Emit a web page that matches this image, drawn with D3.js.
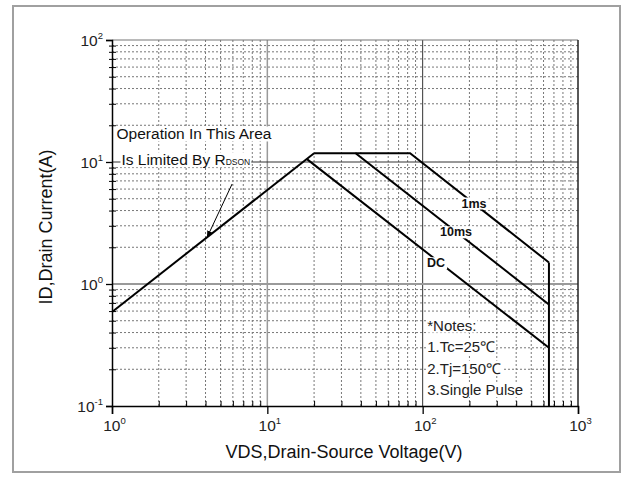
<!DOCTYPE html>
<html><head><meta charset="utf-8">
<script src="https://cdn.jsdelivr.net/npm/d3@7"></script>
<style>body{margin:0;background:#fff;} svg{display:block;font-family:"Liberation Sans",Arial,sans-serif;}</style>
</head><body>
<svg id="c" width="632" height="480"></svg>
<script>
// ---- data ----
const xDecades = [1, 10, 100, 1000];
const yDecades = [0.1, 1, 10, 100];
const xTickLabels = ["0", "1", "2", "3"];
const yTickLabels = ["-1", "0", "1", "2"];
const rdsLimit = [[1, 0.59], [20, 11.8]];
const dcLine = [[17.9, 10.6], [650, 0.3]];
const ms10Line = [[20, 11.8], [37, 11.8], [650, 0.68]];
const ms1Line = [[37, 11.8], [83, 11.8], [650, 1.5]];
const vdsMaxLine = [[650, 1.5], [650, 0.1]];
const lineLabels = [["1ms", 214, 4.6], ["10ms", 164, 2.67], ["DC", 122, 1.49]];
const noteLines = ["*Notes:", "1.Tc=25\u2103", "2.Tj=150\u2103", "3.Single Pulse"];

// ---- setup ----
const svg = d3.select("#c");
svg.append("rect").attr("x", 13).attr("y", 6).attr("width", 607).attr("height", 466)
  .attr("fill", "#fff").attr("stroke", "#a0a0a0").attr("stroke-width", 2);

const x = d3.scaleLog().domain([1, 1000]).range([112, 578]);
const y = d3.scaleLog().domain([0.1, 100]).range([406, 40]);

const minorX = [], minorY = [];
[1, 10, 100].forEach(d => { for (let k = 2; k <= 9; k++) minorX.push(d * k); });
[0.1, 1, 10].forEach(d => { for (let k = 2; k <= 9; k++) minorY.push(+(d * k).toPrecision(3)); });

const g = svg.append("g");
g.selectAll(".vgrid").data(minorX).join("line")
  .attr("x1", d => x(d)).attr("x2", d => x(d)).attr("y1", y(0.1)).attr("y2", y(100))
  .attr("stroke", "#777").attr("stroke-width", 1).attr("stroke-dasharray", "2,2");
g.selectAll(".hgrid").data(minorY).join("line")
  .attr("y1", d => y(d)).attr("y2", d => y(d)).attr("x1", x(1)).attr("x2", x(1000))
  .attr("stroke", "#777").attr("stroke-width", 1).attr("stroke-dasharray", "2,2");
const majV = [[10, "#9a9a9a", 1.5], [100, "#333", 1]];
const majH = [[10, "#333", 1], [1, "#9a9a9a", 2]];
g.selectAll(".mv").data(majV).join("line")
  .attr("x1", d => x(d[0])).attr("x2", d => x(d[0])).attr("y1", y(0.1)).attr("y2", y(100))
  .attr("stroke", d => d[1]).attr("stroke-width", d => d[2]);
g.selectAll(".mh").data(majH).join("line")
  .attr("y1", d => y(d[0])).attr("y2", d => y(d[0])).attr("x1", x(1)).attr("x2", x(1000))
  .attr("stroke", d => d[1]).attr("stroke-width", d => d[2]);
g.append("line").attr("x1", x(1)).attr("x2", x(1000)).attr("y1", y(100)).attr("y2", y(100))
  .attr("stroke", "#777").attr("stroke-width", 1.2);
g.append("line").attr("x1", x(1000)).attr("x2", x(1000)).attr("y1", y(100)).attr("y2", y(0.1))
  .attr("stroke", "#222").attr("stroke-width", 1.5);

// ---- data lines ----
const line = d3.line().x(d => x(d[0])).y(d => y(d[1]));
const lg = svg.append("g").attr("fill", "none").attr("stroke", "#000").attr("stroke-width", 2);
[rdsLimit, dcLine, ms10Line, ms1Line, vdsMaxLine].forEach(s => lg.append("path").attr("d", line(s)));

// ---- axes ----
function supLabel(sel, base, exp) {
  sel.text(null);
  sel.append("tspan").text(base);
  sel.append("tspan").attr("font-size", 9.5).attr("dy", -7).text(exp);
}
const ax = svg.append("g").attr("transform", `translate(0,${y(0.1)})`)
  .call(d3.axisBottom(x).tickValues(xDecades).tickSize(8).tickFormat(""));
ax.select(".domain").attr("stroke", "#000").attr("stroke-width", 1.5);
ax.selectAll(".tick line").attr("stroke", "#000").attr("stroke-width", 1.3);
ax.selectAll(".tick text").each(function(d, i) {
  const t = d3.select(this).attr("y", 25).attr("dy", 0).attr("fill", "#222")
    .attr("font-size", 15.5).attr("text-anchor", "middle").attr("dx", 2);
  supLabel(t, "10", xTickLabels[i]);
});
const axm = svg.append("g").attr("transform", `translate(0,${y(0.1)})`)
  .call(d3.axisBottom(x).tickValues(minorX).tickSize(-5).tickFormat(""));
axm.select(".domain").remove();
axm.selectAll(".tick line").attr("stroke", "#000");

const ay = svg.append("g").attr("transform", `translate(${x(1)},0)`)
  .call(d3.axisLeft(y).tickValues(yDecades).tickSize(6).tickFormat(""));
ay.select(".domain").attr("stroke", "#000").attr("stroke-width", 1.5);
ay.selectAll(".tick line").attr("stroke", "#000").attr("stroke-width", 1.3);
ay.selectAll(".tick text").each(function(d, i) {
  const t = d3.select(this).attr("x", -9).attr("dy", "0.36em").attr("fill", "#222")
    .attr("font-size", 15.5).attr("text-anchor", "end");
  supLabel(t, "10", yTickLabels[i]);
});
const aym = svg.append("g").attr("transform", `translate(${x(1)},0)`)
  .call(d3.axisLeft(y).tickValues(minorY).tickSizeInner(-4).tickSizeOuter(0).tickFormat(""));
aym.select(".domain").remove();
aym.selectAll(".tick line").attr("stroke", "#000").attr("x1", -3);

// axis titles
svg.append("text").attr("x", (x(1) + x(1000)) / 2 - 1).attr("y", 458)
  .attr("text-anchor", "middle").attr("font-size", 18).attr("fill", "#111")
  .text("VDS,Drain-Source Voltage(V)");
svg.append("text").attr("transform", `translate(52,${(y(0.1) + y(100)) / 2 + 4}) rotate(-90)`)
  .attr("text-anchor", "middle").attr("font-size", 18).attr("fill", "#111")
  .text("ID,Drain Current(A)");

// ---- labels with white background ----
function bgText(parent, node, pad) {
  const b = node.getBBox();
  parent.insert("rect", () => node).attr("x", b.x - pad).attr("y", b.y + 1)
    .attr("width", b.width + 2 * pad).attr("height", b.height - 2).attr("fill", "#fff");
}
const lab = svg.append("g");
lineLabels.forEach(([t, vx, vy]) => {
  const tx = lab.append("text").attr("x", x(vx)).attr("y", y(vy)).attr("dy", "0.35em")
    .attr("text-anchor", "middle").attr("font-weight", "bold").attr("font-size", 12.5)
    .attr("fill", "#111").text(t);
  bgText(lab, tx.node(), 2);
});

// annotation
const ann = svg.append("g").attr("fill", "#111");
const a1 = ann.append("text").attr("x", x(1.07)).attr("y", y(15.3)).attr("font-size", 15.5)
  .text("Operation In This Area");
bgText(ann, a1.node(), 1);
const a2 = ann.append("text").attr("x", x(1.15)).attr("y", y(9.4)).attr("font-size", 15.5);
a2.append("tspan").text("Is Limited By R");
a2.append("tspan").attr("font-size", 8.5).text("DSON");
bgText(ann, a2.node(), 1);
// arrow
svg.append("defs").append("marker").attr("id", "ah").attr("viewBox", "0 0 10 10")
  .attr("refX", 9).attr("refY", 5).attr("markerWidth", 7).attr("markerHeight", 7)
  .attr("orient", "auto").append("path").attr("d", "M0,1L10,5L0,9z").attr("fill", "#000");
svg.append("line").attr("x1", x(5.93)).attr("y1", y(6.6)).attr("x2", x(4.1)).attr("y2", y(2.42))
  .attr("stroke", "#000").attr("stroke-width", 1).attr("marker-end", "url(#ah)");

// notes
const ng = svg.append("g").attr("fill", "#222");
noteLines.forEach((t, i) => {
  const tx = ng.append("text").attr("x", x(107)).attr("y", y(0.415) + i * 21.5)
    .attr("font-size", 15).text(t);
  bgText(ng, tx.node(), 1);
});
</script>
</body></html>
